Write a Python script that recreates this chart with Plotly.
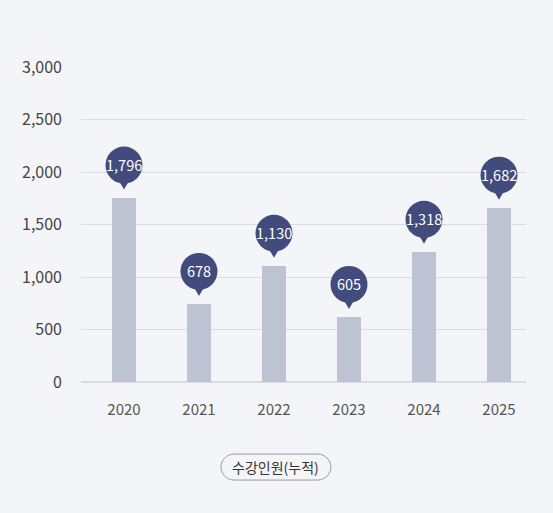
import plotly.graph_objects as go

years = ['2020', '2021', '2022', '2023', '2024', '2025']
bar_values = [1756, 744, 1107, 620, 1240, 1660]
label_values = [1796, 678, 1130, 605, 1318, 1682]
y_ticks = [0, 500, 1000, 1500, 2000, 2500, 3000]

FONT = 'Noto Sans CJK KR'
BG = '#f4f5f9'
BAR = '#bec3d4'
PIN = '#414c7c'

xs = list(range(len(years)))

fig = go.Figure()
fig.add_trace(go.Bar(
    x=xs, y=bar_values, width=0.32,
    marker=dict(color=BAR, line=dict(width=0)),
    hoverinfo='skip', showlegend=False,
))

# pins above each bar: circle + small pointer, sized in pixels
for x, v, lab in zip(xs, bar_values, label_values):
    fig.add_shape(type='circle', xref='x', yref='y',
                  xsizemode='pixel', ysizemode='pixel', xanchor=x, yanchor=v,
                  x0=-18.5, x1=18.5, y0=14, y1=51,
                  fillcolor=PIN, line=dict(width=0), layer='above')
    fig.add_shape(type='path', xref='x', yref='y',
                  xsizemode='pixel', ysizemode='pixel', xanchor=x, yanchor=v,
                  path='M -7,20 L 7,20 L 0,8 Z',
                  fillcolor=PIN, line=dict(width=0), layer='above')
    fig.add_annotation(x=x, y=v, xref='x', yref='y', text=f'{lab:,}',
                       showarrow=False, yshift=33,
                       font=dict(family=FONT, size=14.5, color='white'))

# caption pill under the axis
pill = ('M -42,-13 L 42,-13 C 49,-13 55,-7 55,0 C 55,7 49,13 42,13 '
        'L -42,13 C -49,13 -55,7 -55,0 C -55,-7 -49,-13 -42,-13 Z')
fig.add_shape(type='path', xref='paper', yref='paper',
              xsizemode='pixel', ysizemode='pixel', xanchor=0.438, yanchor=-0.27,
              path=pill, fillcolor='rgba(0,0,0,0)', line=dict(color='#9a9ca3', width=1))
fig.add_annotation(x=0.438, y=-0.27, xref='paper', yref='paper', text='수강인원(누적)',
                   showarrow=False, yanchor='middle',
                   font=dict(family=FONT, size=14, color='#333333'))

fig.update_layout(
    width=553, height=513,
    margin=dict(l=81, r=27, t=67, b=131),
    paper_bgcolor=BG, plot_bgcolor=BG,
    font=dict(family=FONT, color='#555555'),
    bargap=0,
    xaxis=dict(
        range=[-0.573, 5.36], tickvals=xs, ticktext=years,
        showgrid=False, zeroline=False, showline=False, ticks='',
        tickfont=dict(size=15, color='#555555'), ticklabelstandoff=17,
    ),
    yaxis=dict(
        range=[0, 3000], tickvals=y_ticks, tickformat=',',
        gridcolor='#d9dbe1', gridwidth=1, zeroline=True, zerolinecolor='#d9dbe1',
        showline=False, ticks='', tickfont=dict(size=16, color='#444444'),
        ticklabelstandoff=18,
    ),
)

fig.write_html('out.html', config={'displayModeBar': False},
               post_script="document.body.style.margin='0';"
               "document.body.style.background='" + BG + "';")
